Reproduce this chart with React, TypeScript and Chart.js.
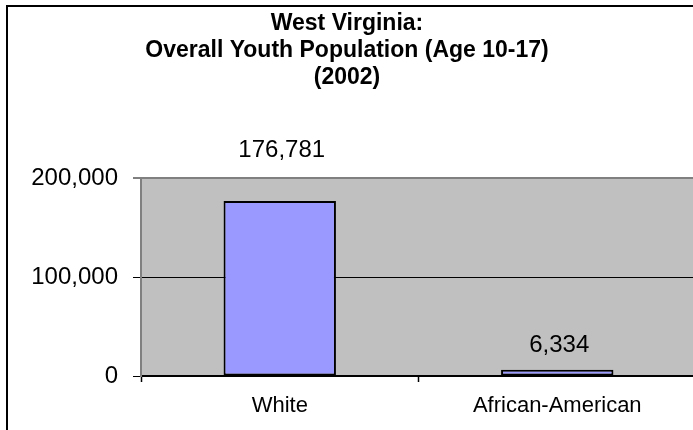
import React, { useEffect, useRef } from "react";
import { Chart, registerables } from "chart.js";

Chart.register(...registerables);

const categories = ["White", "African-American"];
const population = [176781, 6334];
const yTicks = [0, 100000, 200000];
const titleLines = ["West Virginia:", "Overall Youth Population (Age 10-17)", "(2002)"];

const FONT = "'Liberation Sans', Arial, sans-serif";
const fmt = (v: number) => v.toLocaleString("en-US");

const framePlugin = {
  id: "frame",
  beforeDraw(chart: any) {
    const { ctx, chartArea } = chart;
    ctx.save();
    ctx.fillStyle = "#C0C0C0";
    ctx.fillRect(chartArea.left, chartArea.top, chartArea.right - chartArea.left, chartArea.bottom - chartArea.top);
    ctx.restore();
  },
  afterDraw(chart: any) {
    const { ctx, chartArea } = chart;
    ctx.save();
    // outer chart border (left and top visible)
    ctx.strokeStyle = "#000";
    ctx.lineWidth = 2;
    ctx.beginPath();
    ctx.moveTo(7, chart.height);
    ctx.lineTo(7, 6);
    ctx.lineTo(chart.width, 6);
    ctx.stroke();
    // title
    ctx.fillStyle = "#000";
    ctx.font = `bold 23px ${FONT}`;
    ctx.textAlign = "center";
    ctx.textBaseline = "alphabetic";
    const baselines = [30, 57, 83.5];
    titleLines.forEach((t, i) => ctx.fillText(t, 347, baselines[i]));
    // data labels
    ctx.font = `24px ${FONT}`;
    const meta = chart.getDatasetMeta(0);
    meta.data.forEach((bar: any, i: number) => {
      let y = bar.y - 18;
      if (y - 17 < chartArea.top) y = chartArea.top - 21;
      ctx.fillText(fmt(population[i]), bar.x + 2, y);
    });
    ctx.restore();
  },
};

export default function App() {
  const ref = useRef<HTMLCanvasElement | null>(null);
  useEffect(() => {
    if (!ref.current) return;
    const chart = new Chart(ref.current, {
      type: "bar",
      data: {
        labels: categories,
        datasets: [
          {
            data: population,
            backgroundColor: "#9999FF",
            borderColor: "#000",
            borderWidth: 2,
            borderSkipped: false,
            categoryPercentage: 1,
            barPercentage: 0.405,
          },
        ],
      },
      options: {
        responsive: false,
        animation: false,
        layout: { padding: { top: 178, right: 24, left: 0, bottom: 0 } },
        plugins: { legend: { display: false }, tooltip: { enabled: false }, title: { display: false } },
        scales: {
          x: {
            afterFit: (s: any) => {
              s.height = 84;
            },
            grid: {
              offset: true,
              drawOnChartArea: false,
              drawTicks: true,
              tickLength: 6,
              tickColor: "#000",
              tickWidth: 1.5,
            },
            border: { color: "#000", width: 2 },
            ticks: { color: "#000", font: { family: FONT, size: 22 }, padding: 11 },
          },
          y: {
            min: yTicks[0],
            max: yTicks[yTicks.length - 1],
            afterFit: (s: any) => {
              s.width = 141;
            },
            afterBuildTicks: (s: any) => {
              s.ticks = yTicks.map((v) => ({ value: v }));
            },
            grid: {
              color: (c: any) => (c.tick && c.tick.value === yTicks[yTicks.length - 1] ? "#808080" : "#000"),
              lineWidth: (c: any) => (c.tick && c.tick.value === yTicks[yTicks.length - 1] ? 2 : 1),
              tickLength: 8,
              tickColor: "#000",
              tickWidth: 1,
            },
            border: { color: "#808080", width: 2 },
            ticks: {
              color: "#000",
              font: { family: FONT, size: 24 },
              padding: 15,
              callback: (v: any) => fmt(Number(v)),
            },
          },
        },
      },
      plugins: [framePlugin],
    });
    return () => chart.destroy();
  }, []);
  return (
    <div style={{ position: "fixed", left: 0, top: 0, width: 693, height: 430, overflow: "hidden", background: "#fff" }}>
      <canvas ref={ref} width={720} height={460} style={{ display: "block", width: 720, height: 460 }} />
    </div>
  );
}
